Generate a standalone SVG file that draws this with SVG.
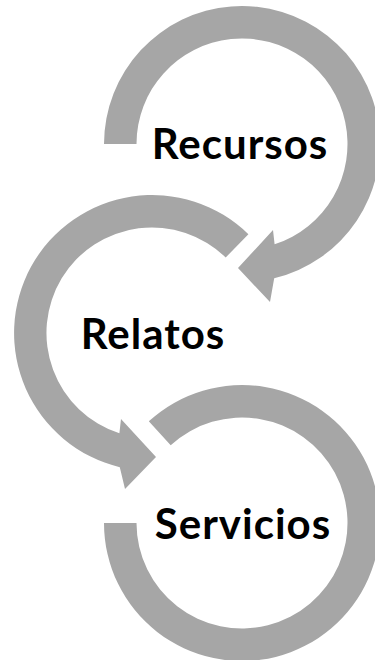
<svg xmlns="http://www.w3.org/2000/svg" width="375" height="660" viewBox="0 0 375 660">
  <style>
    .ring { fill: #a6a6a6; stroke: none; }
    .label { font-family: Lato, "Liberation Sans", sans-serif; font-weight: bold; font-size: 42px; letter-spacing: 1px; fill: #000; text-anchor: middle; }
  </style>
  <rect width="375" height="660" fill="#ffffff"/>
  <g id="connectors">
    <path id="arrow-recursos" class="ring" d="M104,144 A138,138 0 1 1 274.2,278.2 L270,302 L238,268 L273,230 L274.6,244.3 A105.5,105.5 0 1 0 136.5,144 Z"/>
    <path id="arrow-relatos" class="ring" d="M248.4,234.2 A138,138 0 1 0 119.8,467.2 L125,489 L156,457 L121,419 L119.4,433.3 A105.5,105.5 0 1 1 225.7,257.5 Z"/>
    <path id="arc-servicios" class="ring" d="M148.8,421.3 A138,138 0 1 1 104,523 L136.5,523 A105.5,105.5 0 1 0 170.7,445.2 Z"/>
  </g>
  <g id="node-recursos">
    <text class="label" x="240" y="159">Recursos</text>
  </g>
  <g id="node-relatos">
    <text class="label" x="153" y="349">Relatos</text>
  </g>
  <g id="node-servicios">
    <text class="label" x="243" y="539">Servicios</text>
  </g>
</svg>
